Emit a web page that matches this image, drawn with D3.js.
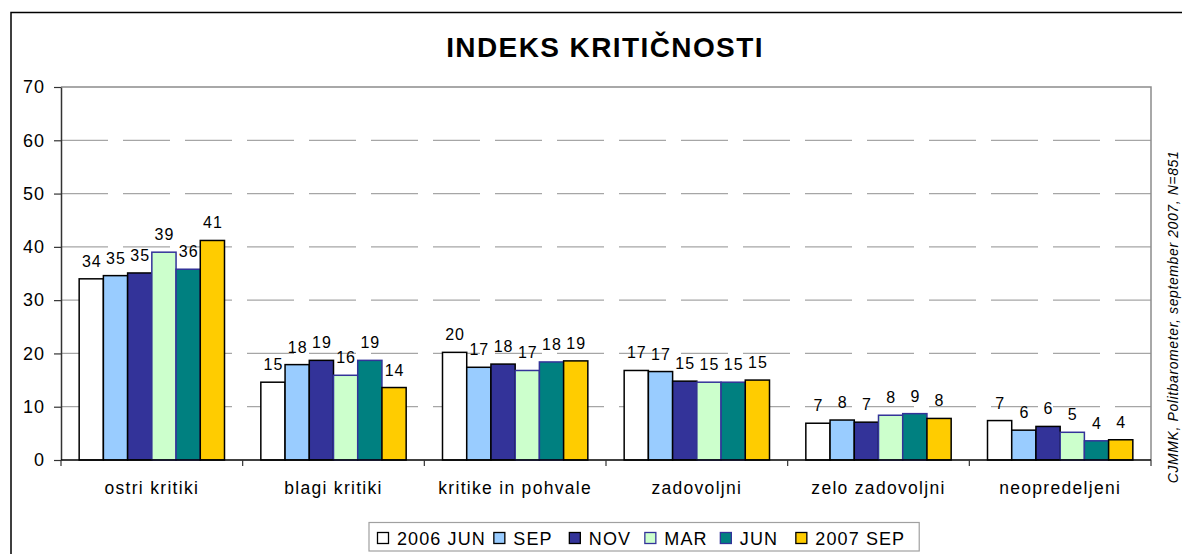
<!DOCTYPE html>
<html><head><meta charset="utf-8">
<script src="https://cdn.jsdelivr.net/npm/d3@7"></script>
<style>
html,body{margin:0;padding:0;background:#fff;}
svg{display:block;font-family:"Liberation Sans",Arial,sans-serif;}
</style></head>
<body>
<svg id="chart" width="1182" height="554"></svg>
<script>
const categories = ["ostri kritiki","blagi kritiki","kritike in pohvale","zadovoljni","zelo zadovoljni","neopredeljeni"];
const seriesNames = ["2006 JUN","SEP","NOV","MAR","JUN","2007 SEP"];
const jun2006 = [34.0, 14.6, 20.2, 16.8, 6.9, 7.4];
const sep2006 = [34.6, 17.9, 17.4, 16.6, 7.5, 5.6];
const nov2006 = [35.1, 18.7, 18.0, 14.8, 7.1, 6.3];
const mar2007 = [39.0, 15.9, 16.8, 14.6, 8.4, 5.2];
const jun2007 = [35.8, 18.7, 18.4, 14.6, 8.7, 3.6];
const sep2007 = [41.2, 13.6, 18.6, 15.0, 7.8, 3.8];
const yTicks = [0,10,20,30,40,50,60,70];
const fills = ["#FFFFFF","#99CCFF","#333399","#CCFFCC","#008080","#FFCC00"];
const strokes = ["#000","#000","#000","#333399","#333399","#000"];
const titleText = "INDEKS KRITIČNOSTI";
const sourceText = "CJMMK, Politbarometer, september 2007, N=851";

const seriesValues = [jun2006, sep2006, nov2006, mar2007, jun2007, sep2007];
const svg = d3.select("#chart");

// outer frame
svg.append("rect").attr("x",11).attr("y",12.5).attr("width",1200).attr("height",600)
  .attr("fill","none").attr("stroke","#000").attr("stroke-width",1.5);

const pL=61, pR=1151, pT=87, pB=460;
const x = d3.scaleBand().domain(categories).range([pL,pR]).padding(0);
const xs = d3.scaleBand().domain(seriesNames).range([0,x.bandwidth()]).paddingInner(0).paddingOuter(0.75);
const y = d3.scaleLinear().domain([0,70]).range([pB,pT]);

// gridlines
svg.append("g").selectAll("line").data(yTicks.filter(t=>t>0&&t<70)).join("line")
  .attr("x1",pL).attr("x2",pR).attr("y1",d=>y(d)).attr("y2",d=>y(d))
  .attr("stroke","#a6a6a6").attr("stroke-width",1.3).attr("stroke-dasharray","47,15");
// plot border top/right
svg.append("path").attr("d",`M${pL},${y(70)}H${pR}V${pB}`)
  .attr("fill","none").attr("stroke","#8c8c8c").attr("stroke-width",1.5);

// bars
const groups = svg.append("g").selectAll("g").data(seriesNames).join("g");
groups.each(function(s,si){
  const g = d3.select(this);
  g.selectAll("rect").data(seriesValues[si]).join("rect")
    .attr("x",(d,i)=>x(categories[i])+xs(s))
    .attr("y",d=>y(d))
    .attr("width",xs.bandwidth())
    .attr("height",d=>pB-y(d))
    .attr("fill",fills[si]).attr("stroke",strokes[si]).attr("stroke-width",1.5);
});
// labels
groups.each(function(s,si){
  const g = d3.select(this);
  g.selectAll("text").data(seriesValues[si]).join("text")
    .attr("x",(d,i)=>x(categories[i])+xs(s)+xs.bandwidth()/2+0.5)
    .attr("y",d=>y(d)-12)
    .attr("text-anchor","middle").attr("font-size",16).attr("letter-spacing",1).attr("fill","#000")
    .text(d=>Math.round(d));
});

// y axis
const yAxis = d3.axisLeft(y).tickValues(yTicks).tickSize(7).tickPadding(9).tickSizeOuter(0);
const ya = svg.append("g").attr("transform",`translate(${pL},0)`).call(yAxis);
ya.select(".domain").attr("stroke","#333").attr("stroke-width",1.5);
ya.selectAll(".tick line").attr("stroke","#333").attr("stroke-width",1.2);
ya.selectAll(".tick text").attr("font-size",18).attr("letter-spacing",1).attr("fill","#000")
  .attr("font-family","Liberation Sans, Arial, sans-serif");

// x axis
const xa = svg.append("g").attr("transform",`translate(0,${pB})`);
xa.append("line").attr("x1",pL).attr("x2",pR).attr("y1",0).attr("y2",0).attr("stroke","#000").attr("stroke-width",1.5);
const bounds = categories.map(c=>x(c)).concat([pR]);
xa.selectAll("line.tk").data(bounds).join("line").attr("class","tk")
  .attr("x1",d=>d).attr("x2",d=>d).attr("y1",0).attr("y2",6).attr("stroke","#333").attr("stroke-width",1.2);
xa.selectAll("text").data(categories).join("text")
  .attr("x",d=>x(d)+x.bandwidth()/2).attr("y",34)
  .attr("text-anchor","middle").attr("font-size",17.5).attr("letter-spacing",1.3).attr("fill","#000").text(d=>d);

// title
svg.append("text").attr("x",605).attr("y",57).attr("text-anchor","middle")
  .attr("font-size",28).attr("letter-spacing",1.4).attr("font-weight","bold").attr("fill","#000").text(titleText);

// source
svg.append("text").attr("transform","translate(1178,317) rotate(-90)")
  .attr("text-anchor","middle").attr("font-size",14).attr("letter-spacing",0.6).attr("font-style","italic").attr("fill","#000")
  .text(sourceText);

// legend
const lg = svg.append("g");
const lbox = lg.append("rect").attr("x",369).attr("y",522.5).attr("height",28.5)
  .attr("fill","#fff").attr("stroke","#a0a0a0").attr("stroke-width",1.2);
let lx = 377.5;
seriesNames.forEach((s,i)=>{
  lg.append("rect").attr("x",lx).attr("y",532.5).attr("width",11).attr("height",11)
    .attr("fill",fills[i]).attr("stroke",strokes[i]).attr("stroke-width",1.3);
  const t = lg.append("text").attr("x",lx+19.5).attr("y",545).attr("font-size",18).attr("letter-spacing",1.1).attr("fill","#000").text(s);
  const w = t.node().getComputedTextLength();
  lx = Math.max(lx + 19.5 + w + 8, lx + 75.5);
});
lbox.attr("width", lx - 369 + 6);
</script>
</body></html>
